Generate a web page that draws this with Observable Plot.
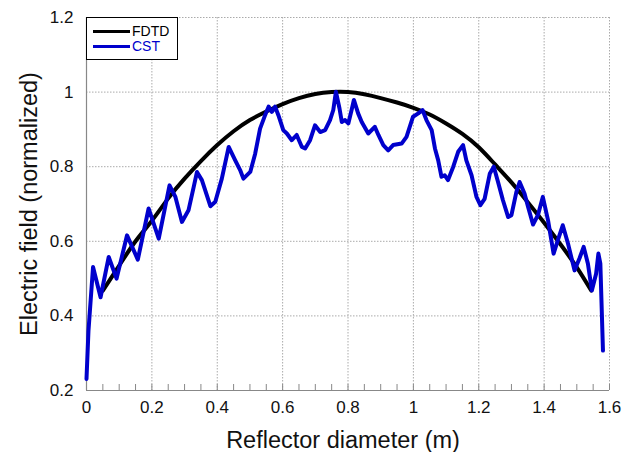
<!DOCTYPE html>
<html>
<head>
<meta charset="utf-8">
<script src="https://cdn.jsdelivr.net/npm/d3@7"></script>
<script src="https://cdn.jsdelivr.net/npm/@observablehq/plot@0.6"></script>
<style>
  html, body { margin: 0; padding: 0; background: #fff; }
  #wrap { position: relative; width: 633px; height: 452px; font-family: "Liberation Sans", Arial, sans-serif; }
  #legend { position: absolute; left: 86px; top: 17px; width: 92px; height: 43px; border: 1px solid #000; background: #fff; box-sizing: border-box; }
  .row { position: absolute; left: 6px; display: flex; align-items: center; font-size: 14px; line-height: 15px; }
  .sw { width: 37px; height: 3px; margin-right: 2px; }
  g[aria-label="x-axis tick label"] text, g[aria-label="y-axis tick label"] text { font-size: 17px; }
</style>
</head>
<body>
<div id="wrap">
  <div id="chart"></div>
  <div id="legend">
    <div class="row" style="top:6px"><div class="sw" style="background:#000"></div><span style="color:#000">FDTD</span></div>
    <div class="row" style="top:21px"><div class="sw" style="background:#0000cc"></div><span style="color:#0000cc">CST</span></div>
  </div>
</div>
<script>
// Series values
const fdtdX = [0.05,0.10,0.15,0.20,0.25,0.30,0.35,0.40,0.45,0.50,0.55,0.60,0.65,0.70,0.75,0.80,0.85,0.90,0.95,1.00,1.05,1.10,1.15,1.20,1.25,1.30,1.35,1.40,1.45,1.50,1.544];
const fdtdY = [0.468,0.535,0.600,0.655,0.715,0.768,0.815,0.858,0.895,0.925,0.948,0.968,0.984,0.995,1.000,1.000,0.994,0.984,0.972,0.958,0.940,0.916,0.888,0.852,0.806,0.758,0.705,0.650,0.592,0.530,0.468];

const cstX = [0.000,0.006,0.020,0.043,0.068,0.092,0.124,0.157,0.190,0.221,0.254,0.272,0.292,0.312,0.328,0.338,0.353,0.379,0.394,0.414,0.435,0.455,0.470,0.480,0.501,0.516,0.531,0.545,0.557,0.567,0.577,0.587,0.602,0.613,0.628,0.643,0.659,0.669,0.684,0.699,0.715,0.730,0.745,0.755,0.763,0.774,0.781,0.791,0.801,0.811,0.818,0.831,0.842,0.862,0.882,0.893,0.908,0.923,0.938,0.964,0.979,0.999,1.015,1.028,1.040,1.056,1.066,1.076,1.086,1.096,1.106,1.122,1.137,1.152,1.162,1.178,1.193,1.205,1.218,1.234,1.246,1.259,1.274,1.290,1.300,1.315,1.325,1.340,1.351,1.366,1.381,1.396,1.412,1.429,1.442,1.457,1.473,1.493,1.508,1.521,1.534,1.546,1.559,1.566,1.572,1.580];
const cstY = [0.231,0.360,0.531,0.450,0.558,0.500,0.616,0.551,0.688,0.607,0.750,0.719,0.652,0.683,0.746,0.786,0.764,0.694,0.706,0.768,0.853,0.817,0.791,0.768,0.786,0.835,0.902,0.935,0.961,0.947,0.961,0.938,0.898,0.889,0.871,0.885,0.853,0.849,0.871,0.911,0.893,0.898,0.925,0.952,1.001,0.956,0.920,0.925,0.916,0.952,0.979,0.943,0.920,0.889,0.907,0.885,0.858,0.844,0.858,0.862,0.880,0.934,0.943,0.952,0.925,0.898,0.849,0.817,0.773,0.777,0.764,0.800,0.840,0.858,0.817,0.777,0.719,0.697,0.714,0.782,0.800,0.759,0.710,0.665,0.670,0.732,0.759,0.728,0.692,0.645,0.670,0.719,0.656,0.567,0.603,0.643,0.594,0.522,0.554,0.585,0.540,0.468,0.513,0.567,0.540,0.307];

// Tick labels
const xTicks = [0, 0.2, 0.4, 0.6, 0.8, 1, 1.2, 1.4, 1.6];
const xMinor = [0.05,0.1,0.15,0.25,0.3,0.35,0.45,0.5,0.55,0.65,0.7,0.75,0.85,0.9,0.95,1.05,1.1,1.15,1.25,1.3,1.35,1.45,1.5,1.55];
const yTicks = [0.2, 0.4, 0.6, 0.8, 1, 1.2];
const xTitle = "Reflector diameter (m)";
const yTitle = "Electric field (normalized)";

const fdtd = fdtdX.map((x, i) => ({x, y: fdtdY[i]}));
const cst = cstX.map((x, i) => ({x, y: cstY[i]}));
const allX = xTicks.concat(xMinor);

const chart = Plot.plot({
  width: 633,
  height: 452,
  marginLeft: 86,
  marginRight: 24,
  marginTop: 17,
  marginBottom: 62,
  style: {fontFamily: "'Liberation Sans', Arial, sans-serif", background: "#fff", color: "#111", overflow: "visible"},
  x: {domain: [0, 1.6]},
  y: {domain: [0.2, 1.2]},
  marks: [
    Plot.gridX(xTicks.slice(1), {stroke: "#aaa", strokeOpacity: 1, strokeDasharray: "1.5,1.5"}),
    Plot.gridY(yTicks.slice(1), {stroke: "#aaa", strokeOpacity: 1, strokeDasharray: "1.5,1.5"}),
    Plot.ruleX([0], {stroke: "#888", strokeWidth: 1.2}),
    Plot.ruleY([0.2], {stroke: "#888", strokeWidth: 1.2}),
    Plot.ruleX(allX, {x: d => d, y1: 0.2, y2: 0.2 + 6 / 373, stroke: "#888"}),
    Plot.axisX(xTicks, {tickSize: 0, tickPadding: 10, fontSize: 17, tickFormat: d => String(d), label: null}),
    Plot.axisY(yTicks, {tickSize: 0, tickPadding: 13, fontSize: 17, tickFormat: d => String(d), label: null}),
    Plot.text([xTitle], {frameAnchor: "bottom", dy: 50, dx: -5, fontSize: 23.5, text: d => d, lineAnchor: "middle", textAnchor: "middle"}),
    Plot.text([yTitle], {frameAnchor: "left", dx: -57, rotate: -90, fontSize: 23.5, text: d => d, lineAnchor: "middle", textAnchor: "middle"}),
    Plot.line(fdtd, {x: "x", y: "y", stroke: "#000", strokeWidth: 4, curve: "natural"}),
    Plot.line(cst, {x: "x", y: "y", stroke: "#0000cc", strokeWidth: 4})
  ]
});
document.getElementById("chart").appendChild(chart);
</script>
</body>
</html>
